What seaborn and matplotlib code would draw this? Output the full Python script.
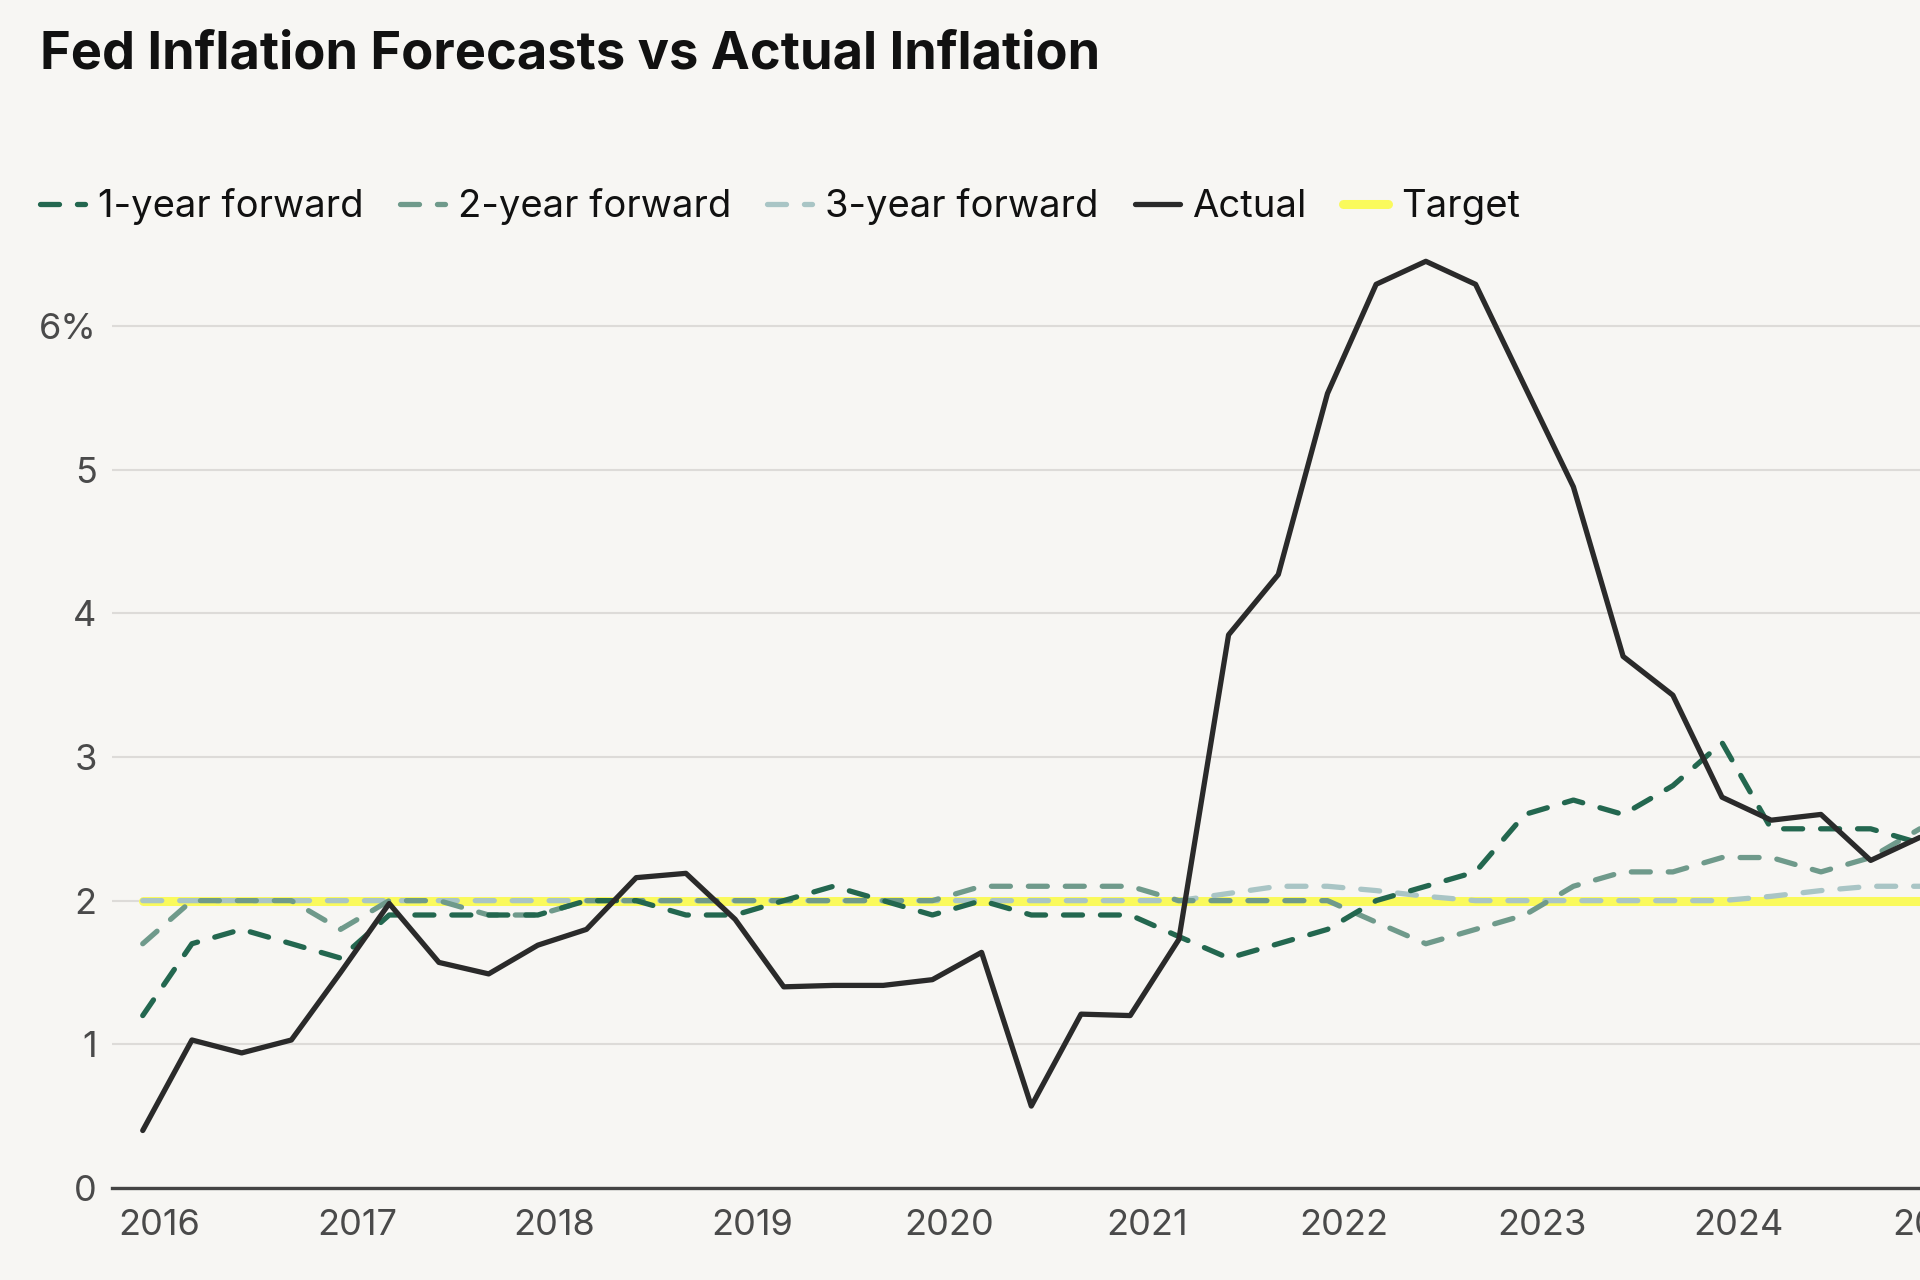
import numpy as np
import pandas as pd
import matplotlib
matplotlib.use("Agg")
import matplotlib.pyplot as plt
import matplotlib.dates as mdates
import seaborn as sns

# quarterly FOMC projection dates, Dec 2015 .. Dec 2024
dates = pd.date_range("2015-12-01", "2024-12-01", freq="3MS")

actual = [0.40, 1.03, 0.94, 1.03, 1.50, 1.98, 1.57, 1.49, 1.69, 1.80,
          2.16, 2.19, 1.87, 1.40, 1.41, 1.41, 1.45, 1.64, 0.57, 1.21,
          1.20, 1.73, 3.85, 4.27, 5.53, 6.29, 6.45, 6.29, 5.58, 4.88,
          3.70, 3.43, 2.72, 2.56, 2.60, 2.28, 2.44]

fwd_1y = [1.2, 1.7, 1.8, 1.7, 1.6, 1.9, 1.9, 1.9, 1.9, 2.0,
          2.0, 1.9, 1.9, 2.0, 2.1, 2.0, 1.9, 2.0, 1.9, 1.9,
          1.9, 1.75, 1.6, 1.7, 1.8, 2.0, 2.1, 2.2, 2.6, 2.7,
          2.6, 2.8, 3.1, 2.5, 2.5, 2.5, 2.4]

fwd_2y = [1.7, 2.0, 2.0, 2.0, 1.8, 2.0, 2.0, 1.9, 1.9, 2.0,
          2.0, 2.0, 2.0, 2.0, 2.0, 2.0, 2.0, 2.1, 2.1, 2.1,
          2.1, 2.0, 2.0, 2.0, 2.0, 1.85, 1.7, 1.8, 1.9, 2.1,
          2.2, 2.2, 2.3, 2.3, 2.2, 2.3, 2.5]

fwd_3y = [2.0, 2.0, 2.0, 2.0, 2.0, 2.0, 2.0, 2.0, 2.0, 2.0,
          2.0, 2.0, 2.0, 2.0, 2.0, 2.0, 2.0, 2.0, 2.0, 2.0,
          2.0, 2.0, 2.05, 2.1, 2.1, 2.07, 2.03, 2.0, 2.0, 2.0,
          2.0, 2.0, 2.0, 2.03, 2.07, 2.1, 2.1]

target = [2.0, 2.0, 2.0, 2.0, 2.0, 2.0, 2.0, 2.0, 2.0, 2.0,
          2.0, 2.0, 2.0, 2.0, 2.0, 2.0, 2.0, 2.0, 2.0, 2.0,
          2.0, 2.0, 2.0, 2.0, 2.0, 2.0, 2.0, 2.0, 2.0, 2.0,
          2.0, 2.0, 2.0, 2.0, 2.0, 2.0, 2.0]

ytick_vals = [0, 1, 2, 3, 4, 5, 6]
ytick_labels = ["0", "1", "2", "3", "4", "5", "6%"]

BG = "#f7f6f3"
C1 = "#23674f"
C2 = "#6f9a8b"
C3 = "#a9c5c5"
CA = "#2a2a2a"
CT = "#fafa5c"

sns.set_theme(style="white")
plt.rcParams["font.family"] = ["Inter", "DejaVu Sans"]

fig = plt.figure(figsize=(19.2, 12.8), dpi=100, facecolor=BG)
# axes runs past the right edge, like the cropped original
ax = fig.add_axes([0.0583, 0.0719, 1.0013, 0.752])
ax.set_facecolor(BG)

lw = 3.8
sns.lineplot(x=dates, y=target, ax=ax, color=CT, linewidth=6.5)
sns.lineplot(x=dates, y=fwd_3y, ax=ax, color=C3, linewidth=lw)
sns.lineplot(x=dates, y=fwd_2y, ax=ax, color=C2, linewidth=lw)
sns.lineplot(x=dates, y=fwd_1y, ax=ax, color=C1, linewidth=lw)
sns.lineplot(x=dates, y=actual, ax=ax, color=CA, linewidth=lw)

l_tgt, l_3y, l_2y, l_1y, l_act = ax.lines[:5]
for ln in (l_3y, l_2y, l_1y):
    ln.set_dashes((3.6, 3.4))
    ln.set_dash_capstyle("round")

ax.set_xlim(pd.Timestamp("2015-10-05"), pd.Timestamp("2025-07-01"))
ax.set_ylim(0, 6.7)
ax.set_yticks(ytick_vals)
ax.set_yticklabels(ytick_labels)
ax.xaxis.set_major_locator(mdates.YearLocator())
ax.xaxis.set_major_formatter(mdates.DateFormatter("%Y"))
ax.set_xlabel("")
ax.set_ylabel("")

ax.grid(axis="y", color="#dddbd8", linewidth=1.5)
ax.grid(axis="x", visible=False)
for s in ("top", "right", "left"):
    ax.spines[s].set_visible(False)
ax.spines["bottom"].set_color("#444444")
ax.spines["bottom"].set_linewidth(2.4)
ax.tick_params(axis="both", length=0, labelsize=26, colors="#4a4a4a")
ax.tick_params(axis="y", pad=11)
ax.tick_params(axis="x", pad=15)

fig.text(0.021, 0.957, "Fed Inflation Forecasts vs Actual Inflation",
         fontsize=37.7, fontweight="bold", color="#111111", va="center", ha="left")

fig.legend([l_1y, l_2y, l_3y, l_act, l_tgt],
           ["1-year forward", "2-year forward", "3-year forward", "Actual", "Target"],
           loc="center left", bbox_to_anchor=(0.021, 1 - 207 / 1280), ncol=5,
           frameon=False, fontsize=27.5, handlelength=1.18, handletextpad=0.33,
           columnspacing=0.95, borderpad=0, borderaxespad=0, labelcolor="#111111")

fig.savefig("out.png", dpi=100, facecolor=BG)
